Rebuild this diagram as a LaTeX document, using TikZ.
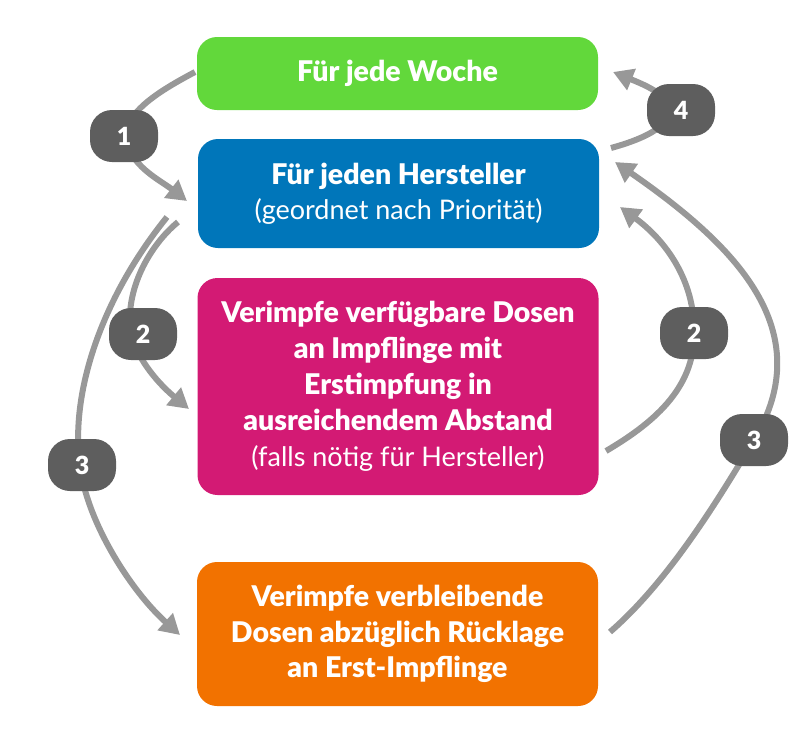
\documentclass[tikz,border=0pt]{standalone}
\usepackage{fontspec}
\setmainfont{Lato}[BoldFont={Lato Black}]
\usetikzlibrary{arrows.meta,calc,backgrounds}
\definecolor{cgreen}{HTML}{62D83B}
\definecolor{cblue}{HTML}{0076BA}
\definecolor{cmagenta}{HTML}{D31A74}
\definecolor{corange}{HTML}{F27200}
\definecolor{cline}{HTML}{989898}
\definecolor{cbadge}{HTML}{5E5E5E}
\newcommand\myhb[1]{{\fontsize{28.5}{36}\selectfont\bfseries #1}}
\begin{document}
\begin{tikzpicture}[x=1pt,y=-1pt,
  box/.style={rectangle, rounded corners=20pt, minimum width=401pt, inner sep=0pt, align=center, text=white, font=\fontsize{27}{36}\selectfont},
  badge/.style={rectangle, rounded corners=22pt, fill=cbadge, minimum width=68pt, minimum height=52pt, inner sep=0pt, text=white, font=\fontsize{25}{25}\selectfont\bfseries},
  conn/.style={draw=cline, line width=6pt, -{Triangle[length=20pt,width=22pt]}}]
\useasboundingbox (0,0) rectangle (807,745);
% boxes
\node[box, fill=cgreen, minimum height=73pt] (woche) at (397.5,73.5) {\myhb{Für jede Woche}};
\node[box, fill=cblue, minimum height=109pt, font=\fontsize{27}{35}\selectfont] (hersteller) at (398.5,193.5) {\myhb{Für jeden Hersteller}\\(geordnet nach Priorität)};
\node[box, fill=cmagenta, minimum height=217pt] (verimpfe) at (398,386.5) {\myhb{Verimpfe verfügbare Dosen}\\\myhb{an Impflinge mit}\\\myhb{Erstimpfung in}\\\myhb{ausreichendem Abstand}\\(falls nötig für Hersteller)};
\node[box, fill=corange, minimum height=144pt, font=\fontsize{27}{35.5}\selectfont] (rest) at (397.5,634) {\myhb{Verimpfe verbleibende}\\\myhb{Dosen abzüglich Rücklage}\\\myhb{an Erst-Impflinge}};
% badges
\node[badge] (b1) at (124,136) {1};
\node[badge] (b4) at (681,110) {4};
\node[badge] (b2l) at (143,334) {2};
\node[badge] (b3l) at (82,465) {3};
\node[badge] (b2r) at (694,333) {2};
\node[badge] (b3r) at (754,440) {3};
% free ends
\coordinate (s1) at (195,72);
\coordinate (t1) at (187,201);
\coordinate (s2) at (178,222);
\coordinate (t2) at (189,409);
\coordinate (s3) at (167,217);
\coordinate (t3) at (180,635);
\coordinate (s2r) at (606,451);
\coordinate (t2r) at (620,207);
\coordinate (s3r) at (610,632);
\coordinate (t3r) at (615,162);
\coordinate (s4) at (611,148);
\coordinate (t4) at (613,72);
\begin{scope}[on background layer]
\draw[conn] (s1) .. controls (165,88) and (126,110) .. ($(b1.center)+(2,0)$) .. controls (128,165) and (160,180) .. (t1);
\draw[conn] (s2) .. controls (150,245) and (124,290) .. ($(b2l.center)+(-12,0)$) .. controls (138,361) and (160,385) .. (t2);
\draw[conn] (s3) .. controls (100,300) and (70,395) .. ($(b3l.center)+(-2,0)$) .. controls (86,520) and (130,590) .. (t3);
\draw[conn] (s2r) .. controls (650,425) and (695,390) .. (b2r.center) .. controls (695,280) and (665,240) .. (t2r);
\draw[conn] (s3r) .. controls (670,580) and (721,495) .. (b3r.center) .. controls (820,330) and (735,245) .. (t3r);
\draw[conn] (s4) .. controls (640,140) and (669,128) .. ($(b4.center)+(-12,0)$) .. controls (669,95) and (645,85) .. (t4);
\end{scope}
\end{tikzpicture}
\end{document}
